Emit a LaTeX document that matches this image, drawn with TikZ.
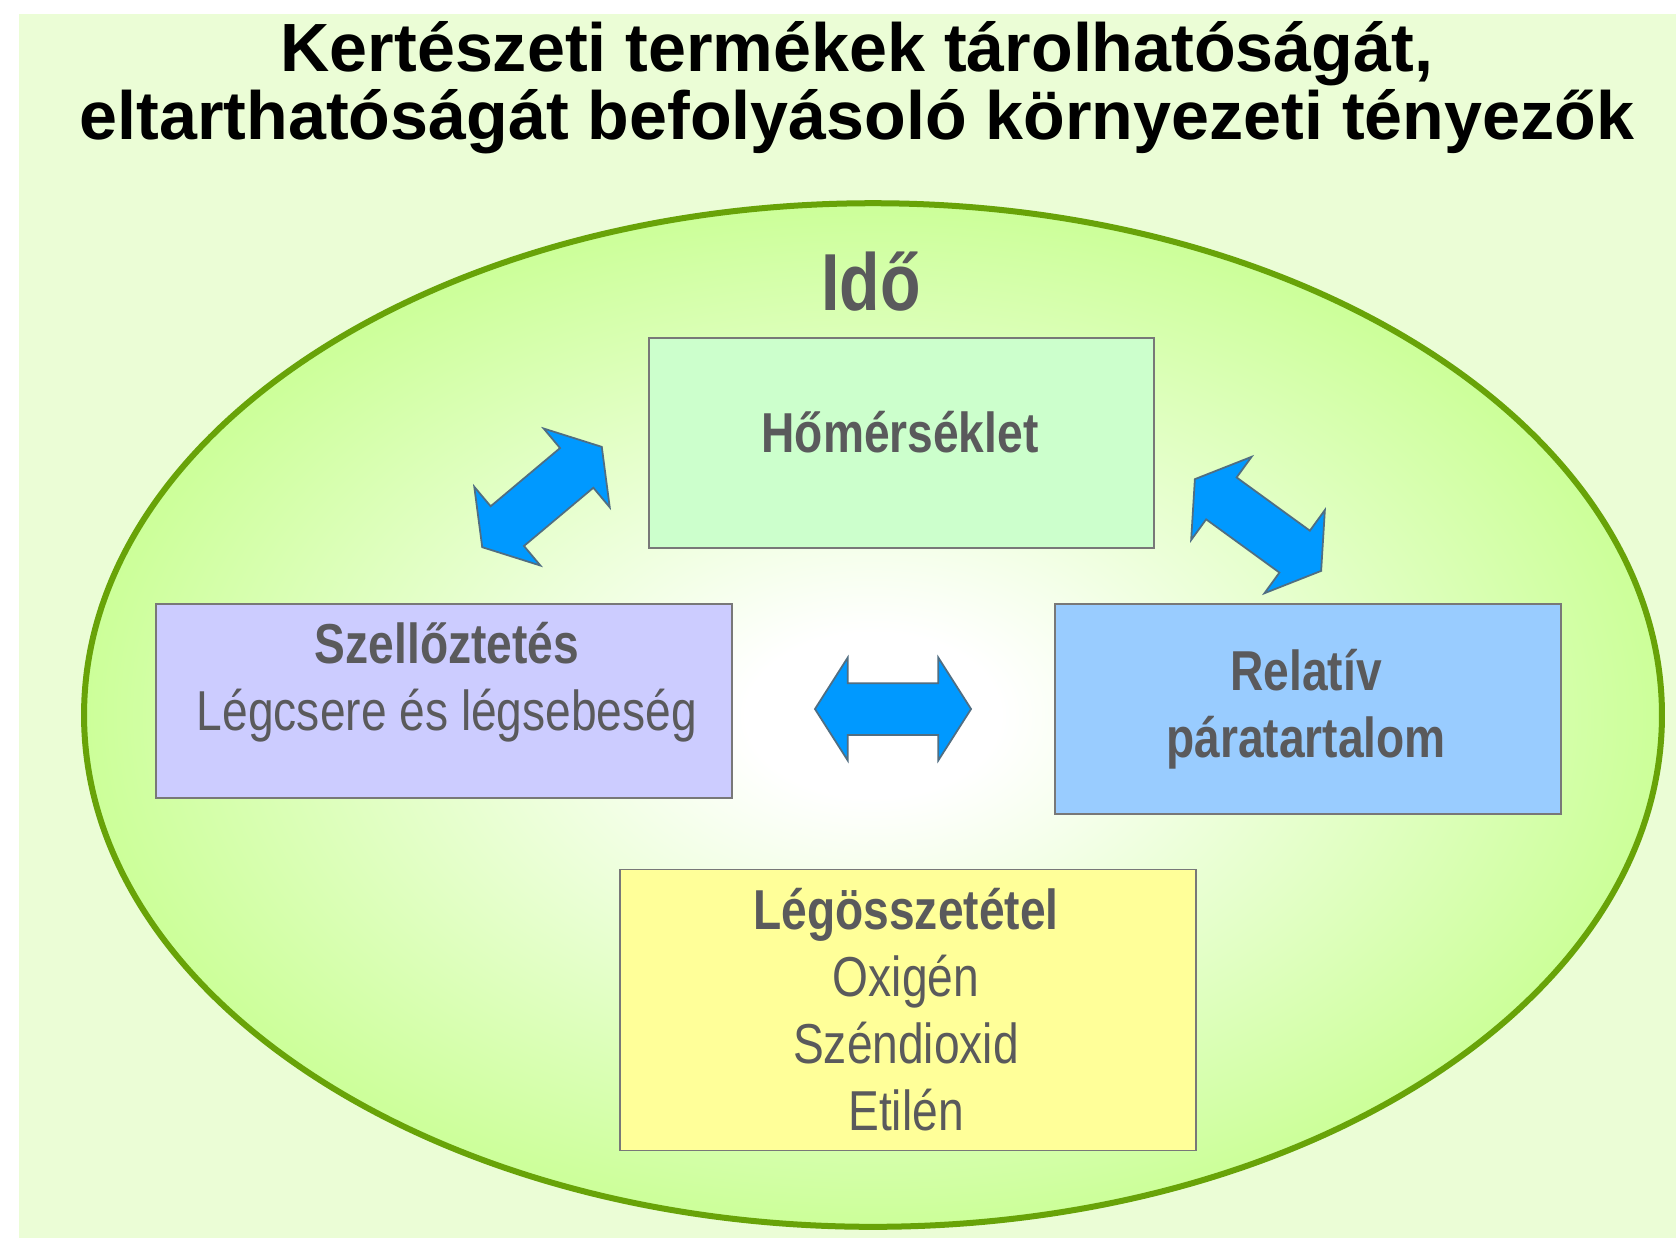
\documentclass[tikz,border=0pt]{standalone}
\usepackage{fontspec}
\setmainfont{Liberation Sans}
\newfontfamily\keskeny{Liberation Sans}[FakeStretch=0.82]
\usetikzlibrary{shapes.arrows}

\definecolor{hatter}{RGB}{235,253,214}
\definecolor{ellkeret}{RGB}{104,163,8}
\definecolor{ellszel}{RGB}{204,255,153}
\definecolor{szoveg}{RGB}{90,90,92}
\definecolor{zoldbox}{RGB}{204,255,204}
\definecolor{lilabox}{RGB}{204,204,255}
\definecolor{kekbox}{RGB}{153,204,255}
\definecolor{sargabox}{RGB}{255,255,153}
\definecolor{nyilkek}{RGB}{0,153,255}
\definecolor{nyilkeret}{RGB}{80,110,130}
\definecolor{boxkeret}{RGB}{120,120,120}

\pgfdeclareradialshading{idoshade}{\pgfpointorigin}{color(0bp)=(white); color(4bp)=(white); color(25bp)=(ellszel); color(50bp)=(ellszel)}

\begin{document}
\begin{tikzpicture}[x=0.01cm, y=-0.01cm,
    doboz/.style={draw=boxkeret, line width=0.45pt, inner sep=0pt},
    cim/.style={font=\fontsize{19.4}{18.2}\selectfont\bfseries, align=center},
    fejlec/.style={font=\keskeny\fontsize{16}{19}\selectfont\bfseries, text=szoveg, align=center},
    sor/.style={font=\keskeny\fontsize{16}{19}\selectfont, text=szoveg, align=center},
    kettos/.style={double arrow, fill=nyilkek, draw=nyilkeret, line width=0.5pt,
        inner sep=0.25cm, minimum height=1.56cm, minimum width=1.01cm,
        double arrow head extend=0.255cm, double arrow tip angle=115}]
    \useasboundingbox (0,0) rectangle (1676,1238);
    \fill[hatter] (19,14) rectangle (1676,1238);

    \node[cim, anchor=base] (cim) at (857,139)
        {Kertészeti termékek tárolhatóságát,\\eltarthatóságát befolyásoló környezeti tényezők};

    % az Idő ellipszis
    \path[draw=ellkeret, line width=0.06cm, shade, shading=idoshade]
        (873,715) ellipse [x radius=7.885cm, y radius=5.115cm];
    \node[font=\keskeny\fontsize{23}{27}\selectfont\bfseries, text=szoveg, anchor=base] (ido) at (871,310) {Idő};

    % tenyezok
    \node[doboz, fill=zoldbox, minimum width=5.05cm, minimum height=2.10cm] (homer) at (901.5,443) {};
    \node[doboz, fill=lilabox, minimum width=5.76cm, minimum height=1.94cm] (szell) at (444,701) {};
    \node[doboz, fill=kekbox, minimum width=5.06cm, minimum height=2.10cm] (para) at (1308,709) {};
    \node[doboz, fill=sargabox, minimum width=5.76cm, minimum height=2.81cm] (leg) at (908,1010) {};

    \node[fejlec, anchor=base] (homer-t) at (900,452) {Hőmérséklet};
    \node[sor, anchor=base] (szell-t) at (447,730) {\bfseries Szellőztetés\\Légcsere és légsebeség};
    \node[fejlec, anchor=base] (para-t) at (1306,757) {Relatív\\páratartalom};
    \node[sor, anchor=base] (leg-t) at (906,1130) {\bfseries Légösszetétel\\Oxigén\\Széndioxid\\Etilén};

    % kettos nyilak
    \node[kettos, rotate=40] (nyil-bal) at (542,497) {};
    \node[kettos, rotate=-36] (nyil-jobb) at (1258,525) {};
    \node[kettos] (nyil-kozep) at (893,709) {};
\end{tikzpicture}
\end{document}
